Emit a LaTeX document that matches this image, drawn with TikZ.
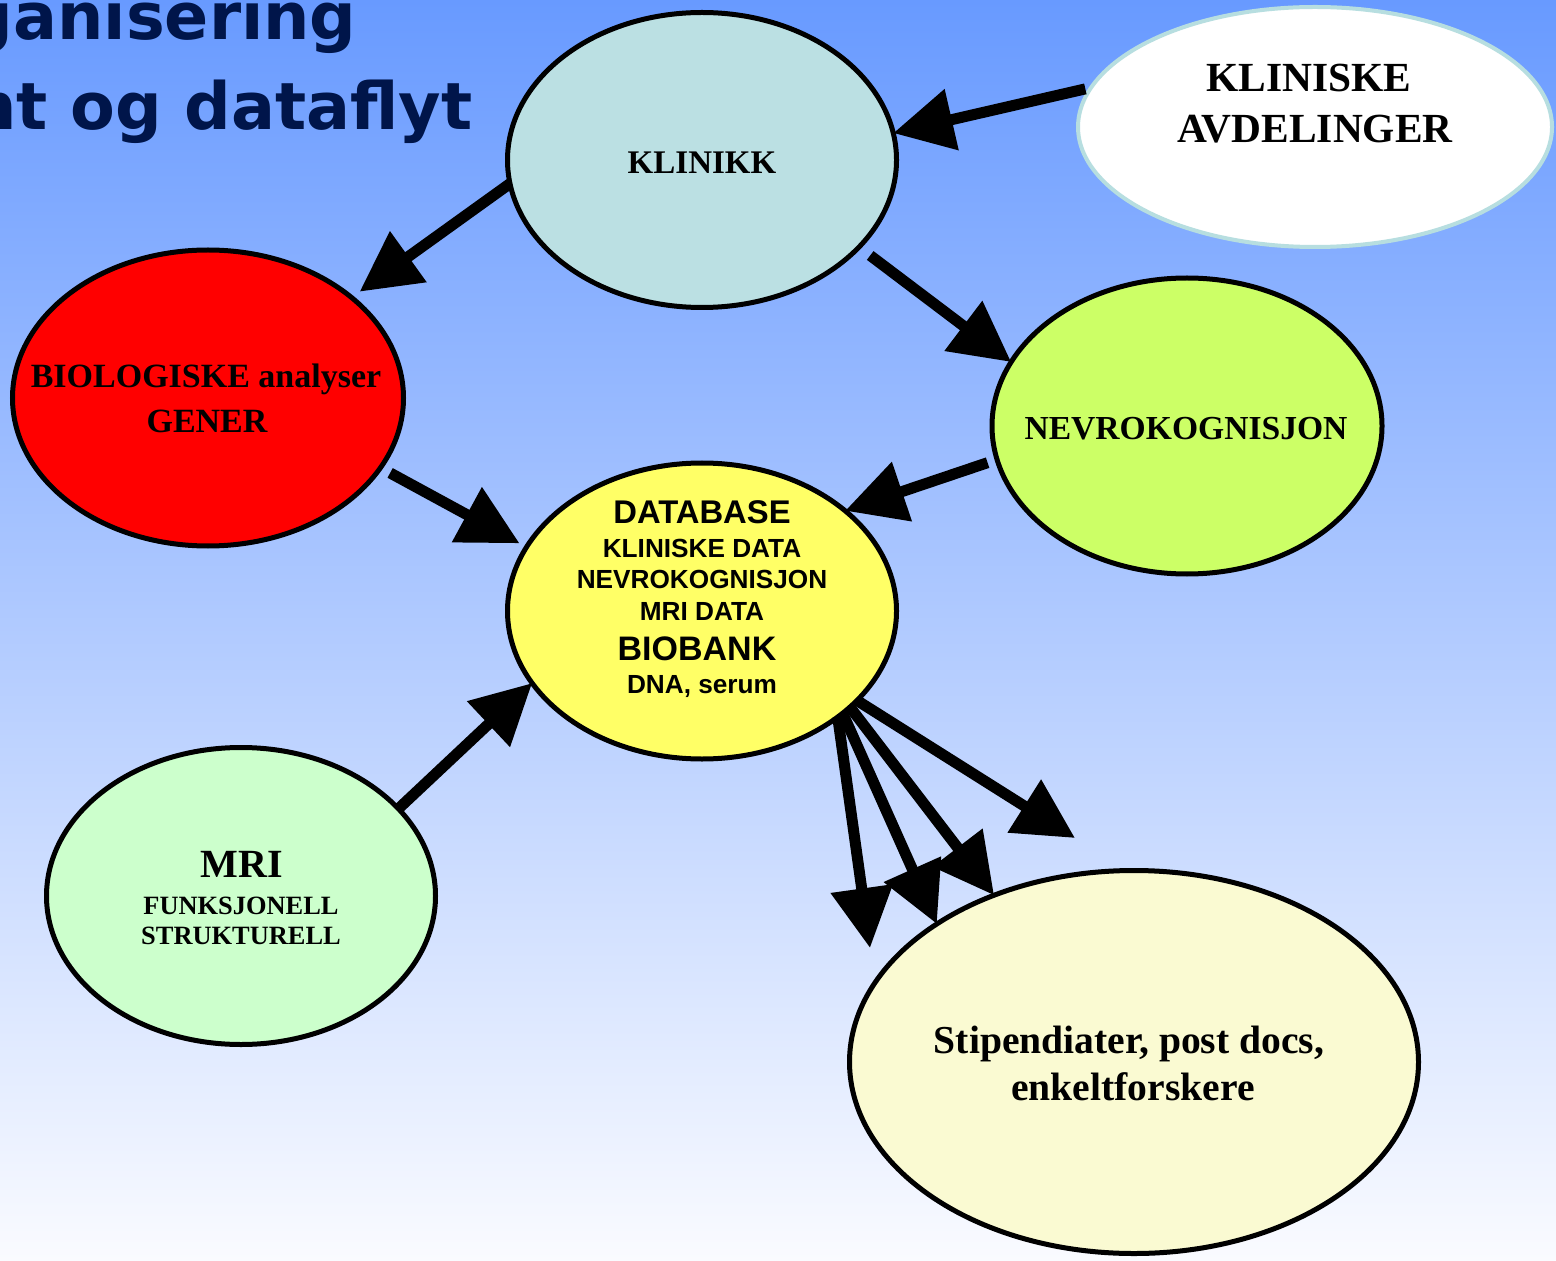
\documentclass[tikz,border=0pt]{standalone}
\usepackage{fontspec}
\setmainfont{Liberation Serif}
\newfontfamily\sansf{Liberation Sans}
\newfontfamily\titlef{DejaVu Sans}
\usetikzlibrary{arrows.meta,shapes.geometric}
\definecolor{bgtop}{RGB}{104,154,255}
\definecolor{bgbot}{RGB}{250,251,255}
\definecolor{titlec}{RGB}{0,21,74}
\definecolor{klc}{RGB}{187,224,227}
\definecolor{avdborder}{RGB}{183,222,224}
\definecolor{nevc}{RGB}{204,255,102}
\definecolor{dbc}{RGB}{255,255,102}
\definecolor{mric}{RGB}{204,255,204}
\definecolor{stipc}{RGB}{250,250,210}
\begin{document}
\begin{tikzpicture}[x=0.5pt,y=-0.5pt,
  ell/.style={ellipse, draw=black, line width=2.5pt, inner sep=0pt, outer sep=0pt},
  arr/.style={line width=5.5pt, -{Triangle[length=30pt,width=30pt]}},
  txt/.style={anchor=base, inner sep=0pt, text=black}]
\shade[top color=bgtop,bottom color=bgbot] (0,0) rectangle (1556,1261);
\useasboundingbox (0,0) rectangle (1556,1261);

% title (partly cut by the page edge)
\node[anchor=base east, inner sep=0pt, text=titlec, font=\titlef\bfseries\fontsize{32.6pt}{36pt}\selectfont] (title1) at (357,40) {ganisering};
\node[anchor=base east, inner sep=0pt, text=titlec, font=\titlef\bfseries\fontsize{32.6pt}{36pt}\selectfont] (title2) at (473,130) {nt og dataflyt};

% ellipses
\node[ell, fill=klc, minimum width=194.5pt, minimum height=147.5pt] (kl) at (702,160) {};
\node[ellipse, draw=avdborder, line width=2pt, fill=white, inner sep=0pt, outer sep=0pt, minimum width=237pt, minimum height=120pt] (avd) at (1315,127) {};
\node[ell, fill=red, minimum width=195.5pt, minimum height=148pt] (bio) at (208,398) {};
\node[ell, fill=nevc, minimum width=195pt, minimum height=148pt] (nev) at (1187,426) {};
\node[ell, fill=dbc, minimum width=194.5pt, minimum height=148pt] (db) at (702,611) {};
\node[ell, fill=mric, minimum width=194.5pt, minimum height=148.5pt] (mri) at (241,896) {};
\node[ell, fill=stipc, minimum width=284.5pt, minimum height=191.5pt] (stip) at (1134,1062) {};

% texts
\node[txt, font=\bfseries\fontsize{16.5pt}{20pt}\selectfont] (tkl) at (702,174) {KLINIKK};
\node[txt, font=\bfseries\fontsize{20.7pt}{25pt}\selectfont] (tavd1) at (1309,92) {KLINISKE};
\node[txt, font=\bfseries\fontsize{20.7pt}{25pt}\selectfont] (tavd2) at (1315,143) {AVDELINGER};
\node[txt, font=\bfseries\fontsize{17pt}{20pt}\selectfont] (tbio1) at (206,388) {BIOLOGISKE analyser};
\node[txt, font=\bfseries\fontsize{17pt}{20pt}\selectfont] (tbio2) at (207,433) {GENER};
\node[txt, font=\bfseries\fontsize{16.8pt}{20pt}\selectfont] (tnev) at (1186,440) {NEVROKOGNISJON};
\node[txt, font=\sansf\bfseries\fontsize{16.4pt}{20pt}\selectfont] (tdb1) at (702,523) {DATABASE};
\node[txt, font=\sansf\bfseries\fontsize{13.1pt}{16pt}\selectfont] (tdb2) at (702,557) {KLINISKE DATA};
\node[txt, font=\sansf\bfseries\fontsize{13.1pt}{16pt}\selectfont] (tdb3) at (702,588) {NEVROKOGNISJON};
\node[txt, font=\sansf\bfseries\fontsize{13.1pt}{16pt}\selectfont] (tdb4) at (702,620) {MRI DATA};
\node[txt, font=\sansf\bfseries\fontsize{17pt}{20pt}\selectfont] (tdb5) at (697,660) {BIOBANK};
\node[txt, font=\sansf\bfseries\fontsize{13.1pt}{16pt}\selectfont] (tdb6) at (702,693) {DNA, serum};
\node[txt, font=\bfseries\fontsize{20pt}{24pt}\selectfont] (tmri1) at (242,877) {MRI};
\node[txt, font=\bfseries\fontsize{13.2pt}{16pt}\selectfont] (tmri2) at (241,914) {FUNKSJONELL};
\node[txt, font=\bfseries\fontsize{13.2pt}{16pt}\selectfont] (tmri3) at (241,944) {STRUKTURELL};
\node[txt, font=\bfseries\fontsize{19.8pt}{24pt}\selectfont] (tstip1) at (1129,1053) {Stipendiater, post docs,};
\node[txt, font=\bfseries\fontsize{19.8pt}{24pt}\selectfont] (tstip2) at (1133,1100) {enkeltforskere};

% free ends
\coordinate (t7) at (870,948);
\coordinate (t10) at (1075,838);

% arrows
\draw[arr, shorten <=3pt] (avd.170) -- (kl.8);
\draw[arr, shorten >=5pt] (kl.187) -- (bio.35);
\draw[arr, shorten <=7pt] (kl.-29.5) -- (nev.160);
\draw[arr, shorten <=5pt] (nev.190) -- (db.35);
\draw[arr, shorten <=5.5pt, shorten >=4pt] (bio.-22.7) -- (db.160.8);
\draw[arr] (mri.29.7) -- (db.203.6);
\draw[arr] (db.-38) -- (t7);
\draw[arr] (db.-36) -- (stip.145);
\draw[arr] (db.-33) -- (stip.130);
\draw[arr] (db.-30) -- (t10);
\end{tikzpicture}
\end{document}
